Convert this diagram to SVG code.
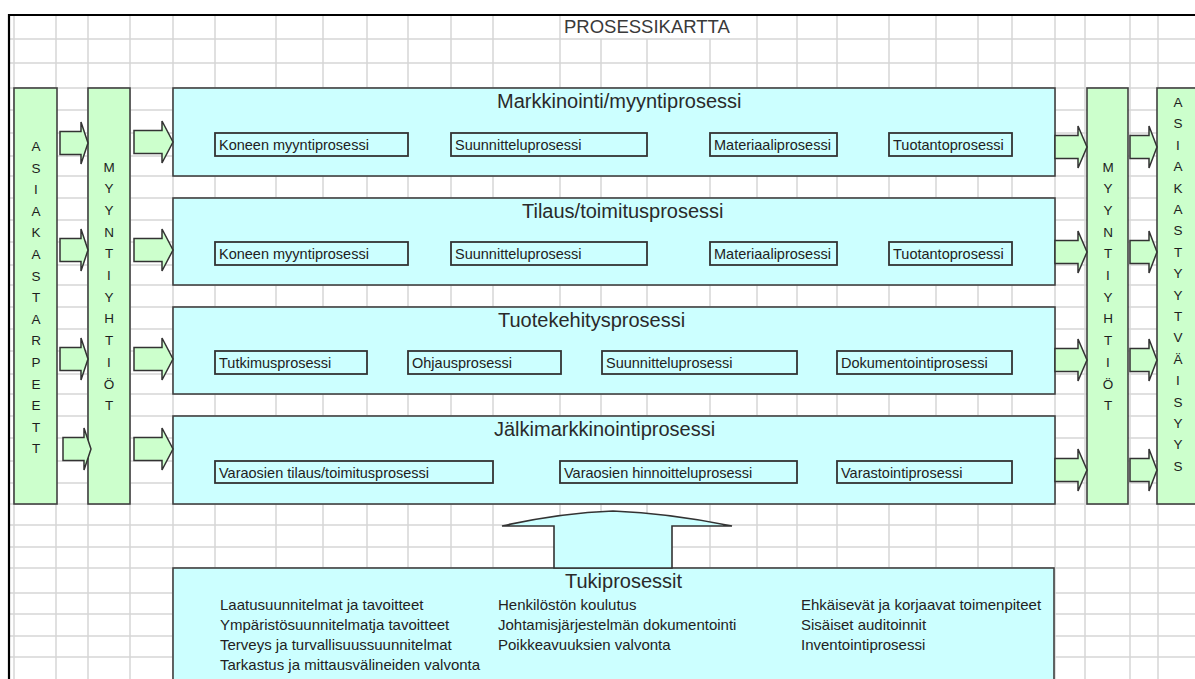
<svg xmlns="http://www.w3.org/2000/svg" width="1195" height="679" viewBox="0 0 1195 679">
<style>
.grid line{stroke:#d6d6d6;stroke-width:1.5}
.box{fill:#ccffff;stroke:#404040;stroke-width:1.6}
.bar{fill:#ccffcc;stroke:#404040;stroke-width:1.6}
.sub{fill:#ccffff;stroke:#333;stroke-width:1.8}
.arr{fill:#ccffcc;stroke:#333;stroke-width:1.5;stroke-linejoin:miter}
.big{fill:#ccffff;stroke:#333;stroke-width:1.6}
text{font-family:"Liberation Sans",Arial,sans-serif;fill:#222}
.ttl{font-size:20px;fill:#2a2a2a}
.st{font-size:14.5px}
.tk{font-size:15px}
.lt{font-size:13.5px;text-anchor:middle;fill:#1e1e1e}
</style>
<rect width="1195" height="679" fill="#fff"/>
<g class="grid">
<line x1="14" y1="15" x2="14" y2="679"/>
<line x1="56" y1="15" x2="56" y2="679"/>
<line x1="88" y1="15" x2="88" y2="679"/>
<line x1="130" y1="15" x2="130" y2="679"/>
<line x1="173" y1="15" x2="173" y2="679"/>
<line x1="215" y1="15" x2="215" y2="679"/>
<line x1="276" y1="15" x2="276" y2="679"/>
<line x1="323" y1="15" x2="323" y2="679"/>
<line x1="367" y1="15" x2="367" y2="679"/>
<line x1="408" y1="15" x2="408" y2="679"/>
<line x1="451" y1="15" x2="451" y2="679"/>
<line x1="493" y1="15" x2="493" y2="679"/>
<line x1="560" y1="15" x2="560" y2="679"/>
<line x1="601" y1="39" x2="601" y2="679"/>
<line x1="647" y1="39" x2="647" y2="679"/>
<line x1="710" y1="39" x2="710" y2="679"/>
<line x1="757" y1="15" x2="757" y2="679"/>
<line x1="797" y1="15" x2="797" y2="679"/>
<line x1="837" y1="15" x2="837" y2="679"/>
<line x1="889" y1="15" x2="889" y2="679"/>
<line x1="936" y1="15" x2="936" y2="679"/>
<line x1="978" y1="15" x2="978" y2="679"/>
<line x1="1012" y1="15" x2="1012" y2="679"/>
<line x1="1055" y1="15" x2="1055" y2="679"/>
<line x1="1085" y1="15" x2="1085" y2="679"/>
<line x1="1130" y1="15" x2="1130" y2="679"/>
<line x1="1158" y1="15" x2="1158" y2="679"/>
<line x1="9" y1="39" x2="1195" y2="39"/>
<line x1="9" y1="63" x2="1195" y2="63"/>
<line x1="9" y1="88" x2="1195" y2="88"/>
<line x1="9" y1="110" x2="1195" y2="110"/>
<line x1="9" y1="133" x2="1195" y2="133"/>
<line x1="9" y1="156" x2="1195" y2="156"/>
<line x1="9" y1="176" x2="1195" y2="176"/>
<line x1="9" y1="198" x2="1195" y2="198"/>
<line x1="9" y1="220" x2="1195" y2="220"/>
<line x1="9" y1="242" x2="1195" y2="242"/>
<line x1="9" y1="265" x2="1195" y2="265"/>
<line x1="9" y1="285" x2="1195" y2="285"/>
<line x1="9" y1="307" x2="1195" y2="307"/>
<line x1="9" y1="329" x2="1195" y2="329"/>
<line x1="9" y1="351" x2="1195" y2="351"/>
<line x1="9" y1="374" x2="1195" y2="374"/>
<line x1="9" y1="394" x2="1195" y2="394"/>
<line x1="9" y1="416" x2="1195" y2="416"/>
<line x1="9" y1="438" x2="1195" y2="438"/>
<line x1="9" y1="461" x2="1195" y2="461"/>
<line x1="9" y1="483" x2="1195" y2="483"/>
<line x1="9" y1="504" x2="1195" y2="504"/>
<line x1="9" y1="525" x2="1195" y2="525"/>
<line x1="9" y1="547" x2="1195" y2="547"/>
<line x1="9" y1="568" x2="1195" y2="568"/>
<line x1="9" y1="593" x2="1195" y2="593"/>
<line x1="9" y1="614" x2="1195" y2="614"/>
<line x1="9" y1="636" x2="1195" y2="636"/>
<line x1="9" y1="657" x2="1195" y2="657"/>
</g>
<g id="frame">
<line x1="8" y1="15" x2="1195" y2="15" stroke="#000" stroke-width="2.2"/>
<line x1="9" y1="14" x2="9" y2="679" stroke="#000" stroke-width="2.2"/>
</g>
<g id="title"><text x="564" y="33" style="font-size:18.5px;fill:#3a3a3a">PROSESSIKARTTA</text></g>

<g id="asiakastarpeet">
<rect class="bar" x="14" y="88" width="43" height="416"/>
<text class="lt"><tspan x="36" y="151">A</tspan><tspan x="36" y="172.6">S</tspan><tspan x="36" y="194.2">I</tspan><tspan x="36" y="215.8">A</tspan><tspan x="36" y="237.4">K</tspan><tspan x="36" y="259">A</tspan><tspan x="36" y="280.6">S</tspan><tspan x="36" y="302.2">T</tspan><tspan x="36" y="323.8">A</tspan><tspan x="36" y="345.4">R</tspan><tspan x="36" y="367">P</tspan><tspan x="36" y="388.6">E</tspan><tspan x="36" y="410.2">E</tspan><tspan x="36" y="431.8">T</tspan><tspan x="36" y="453.4">T</tspan></text>
</g>
<g id="myyntiyhtiot-left">
<rect class="bar" x="88" y="88" width="42" height="416"/>
<text class="lt"><tspan x="109" y="171.5">M</tspan><tspan x="109" y="193.2">Y</tspan><tspan x="109" y="214.9">Y</tspan><tspan x="109" y="236.6">N</tspan><tspan x="109" y="258.3">T</tspan><tspan x="109" y="280">I</tspan><tspan x="109" y="301.7">Y</tspan><tspan x="109" y="323.4">H</tspan><tspan x="109" y="345.1">T</tspan><tspan x="109" y="366.8">I</tspan><tspan x="109" y="388.5">Ö</tspan><tspan x="109" y="410.2">T</tspan></text>
</g>
<g id="myyntiyhtiot-right">
<rect class="bar" x="1087" y="88" width="41" height="416"/>
<text class="lt"><tspan x="1108" y="171.5">M</tspan><tspan x="1108" y="193.2">Y</tspan><tspan x="1108" y="214.9">Y</tspan><tspan x="1108" y="236.6">N</tspan><tspan x="1108" y="258.3">T</tspan><tspan x="1108" y="280">I</tspan><tspan x="1108" y="301.7">Y</tspan><tspan x="1108" y="323.4">H</tspan><tspan x="1108" y="345.1">T</tspan><tspan x="1108" y="366.8">I</tspan><tspan x="1108" y="388.5">Ö</tspan><tspan x="1108" y="410.2">T</tspan></text>
</g>
<g id="asiakastyytyvaisyys">
<rect class="bar" x="1157" y="88" width="45" height="416"/>
<text class="lt"><tspan x="1178" y="107">A</tspan><tspan x="1178" y="128.4">S</tspan><tspan x="1178" y="149.8">I</tspan><tspan x="1178" y="171.2">A</tspan><tspan x="1178" y="192.6">K</tspan><tspan x="1178" y="214">A</tspan><tspan x="1178" y="235.4">S</tspan><tspan x="1178" y="256.8">T</tspan><tspan x="1178" y="278.2">Y</tspan><tspan x="1178" y="299.6">Y</tspan><tspan x="1178" y="321">T</tspan><tspan x="1178" y="342.4">V</tspan><tspan x="1178" y="363.8">Ä</tspan><tspan x="1178" y="385.2">I</tspan><tspan x="1178" y="406.6">S</tspan><tspan x="1178" y="428">Y</tspan><tspan x="1178" y="449.4">Y</tspan><tspan x="1178" y="470.8">S</tspan></text>
</g>

<g id="markkinointi">
<rect class="box" x="173" y="88" width="882" height="88"/>
<text class="ttl" x="497" y="108">Markkinointi/myyntiprosessi</text>
<rect class="sub" x="215" y="133" width="193" height="23"/><text class="st" x="219" y="150">Koneen myyntiprosessi</text>
<rect class="sub" x="451" y="133" width="196" height="23"/><text class="st" x="455" y="150">Suunnitteluprosessi</text>
<rect class="sub" x="710" y="133" width="127" height="23"/><text class="st" x="714" y="150">Materiaaliprosessi</text>
<rect class="sub" x="889" y="133" width="123" height="23"/><text class="st" x="893" y="150">Tuotantoprosessi</text>
</g>
<g id="tilaus">
<rect class="box" x="173" y="198" width="882" height="87"/>
<text class="ttl" x="522" y="218">Tilaus/toimitusprosessi</text>
<rect class="sub" x="215" y="242" width="193" height="23"/><text class="st" x="219" y="259">Koneen myyntiprosessi</text>
<rect class="sub" x="451" y="242" width="196" height="23"/><text class="st" x="455" y="259">Suunnitteluprosessi</text>
<rect class="sub" x="710" y="242" width="127" height="23"/><text class="st" x="714" y="259">Materiaaliprosessi</text>
<rect class="sub" x="889" y="242" width="123" height="23"/><text class="st" x="893" y="259">Tuotantoprosessi</text>
</g>
<g id="tuotekehitys">
<rect class="box" x="173" y="307" width="882" height="87"/>
<text class="ttl" x="498" y="327">Tuotekehitysprosessi</text>
<rect class="sub" x="215" y="351" width="152" height="23"/><text class="st" x="219" y="368">Tutkimusprosessi</text>
<rect class="sub" x="408" y="351" width="153" height="23"/><text class="st" x="412" y="368">Ohjausprosessi</text>
<rect class="sub" x="602" y="351" width="195" height="23"/><text class="st" x="606" y="368">Suunnitteluprosessi</text>
<rect class="sub" x="837" y="351" width="175" height="23"/><text class="st" x="841" y="368">Dokumentointiprosessi</text>
</g>
<g id="jalkimarkkinointi">
<rect class="box" x="173" y="416" width="882" height="88"/>
<text class="ttl" x="494" y="436">Jälkimarkkinointiprosessi</text>
<rect class="sub" x="215" y="461" width="278" height="22"/><text class="st" x="219" y="478">Varaosien tilaus/toimitusprosessi</text>
<rect class="sub" x="560" y="461" width="237" height="22"/><text class="st" x="564" y="478">Varaosien hinnoitteluprosessi</text>
<rect class="sub" x="837" y="461" width="175" height="22"/><text class="st" x="841" y="478">Varastointiprosessi</text>
</g>
<g id="tukiprosessit">
<rect class="box" x="173" y="568" width="881" height="130"/>
<text class="ttl" x="565" y="588">Tukiprosessit</text>
<text class="tk" x="220" y="610">Laatusuunnitelmat ja tavoitteet</text>
<text class="tk" x="220" y="630">Ympäristösuunnitelmatja tavoitteet</text>
<text class="tk" x="220" y="650">Terveys ja turvallisuussuunnitelmat</text>
<text class="tk" x="220" y="670">Tarkastus ja mittausvälineiden valvonta</text>
<text class="tk" x="498" y="610">Henkilöstön koulutus</text>
<text class="tk" x="498" y="630">Johtamisjärjestelmän dokumentointi</text>
<text class="tk" x="498" y="650">Poikkeavuuksien valvonta</text>
<text class="tk" x="801" y="610">Ehkäisevät ja korjaavat toimenpiteet</text>
<text class="tk" x="801" y="630">Sisäiset auditoinnit</text>
<text class="tk" x="801" y="650">Inventointiprosessi</text>
</g>

<g id="connectors">
<polygon class="arr" points="60,131.5 81,131.5 81,122 88,143 81,164 81,154.5 60,154.5"/>
<polygon class="arr" points="60,238.5 81,238.5 81,229 88,250 81,271 81,261.5 60,261.5"/>
<polygon class="arr" points="60,347.5 81,347.5 81,338 88,359 81,380 81,370.5 60,370.5"/>
<polygon class="arr" points="63,437.5 84,437.5 84,428 91,449 84,470 84,460.5 63,460.5"/>
<polygon class="arr" points="134,130.5 162,130.5 162,121 173,142 162,163 162,153.5 134,153.5"/>
<polygon class="arr" points="134,238.5 162,238.5 162,229 173,250 162,271 162,261.5 134,261.5"/>
<polygon class="arr" points="134,347.5 162,347.5 162,338 173,359 162,380 162,370.5 134,370.5"/>
<polygon class="arr" points="134,437.5 162,437.5 162,428 173,449 162,470 162,460.5 134,460.5"/>
<polygon class="arr" points="1055,135.5 1078,135.5 1078,126 1087,147 1078,168 1078,158.5 1055,158.5"/>
<polygon class="arr" points="1055,240.5 1078,240.5 1078,231 1087,252 1078,273 1078,263.5 1055,263.5"/>
<polygon class="arr" points="1055,348.5 1078,348.5 1078,339 1087,360 1078,381 1078,371.5 1055,371.5"/>
<polygon class="arr" points="1055,458.5 1078,458.5 1078,449 1087,470 1078,491 1078,481.5 1055,481.5"/>
<polygon class="arr" points="1130,135.5 1149,135.5 1149,126 1157,147 1149,168 1149,158.5 1130,158.5"/>
<polygon class="arr" points="1130,240.5 1149,240.5 1149,231 1157,252 1149,273 1149,263.5 1130,263.5"/>
<polygon class="arr" points="1130,348.5 1149,348.5 1149,339 1157,360 1149,381 1149,371.5 1130,371.5"/>
<polygon class="arr" points="1130,458.5 1149,458.5 1149,449 1157,470 1149,491 1149,481.5 1130,481.5"/>
<path class="big" d="M554,568 V526 H502 Q560,513 613,511 Q668,513 732,526 H672 V568 Z"/>
</g>
</svg>
